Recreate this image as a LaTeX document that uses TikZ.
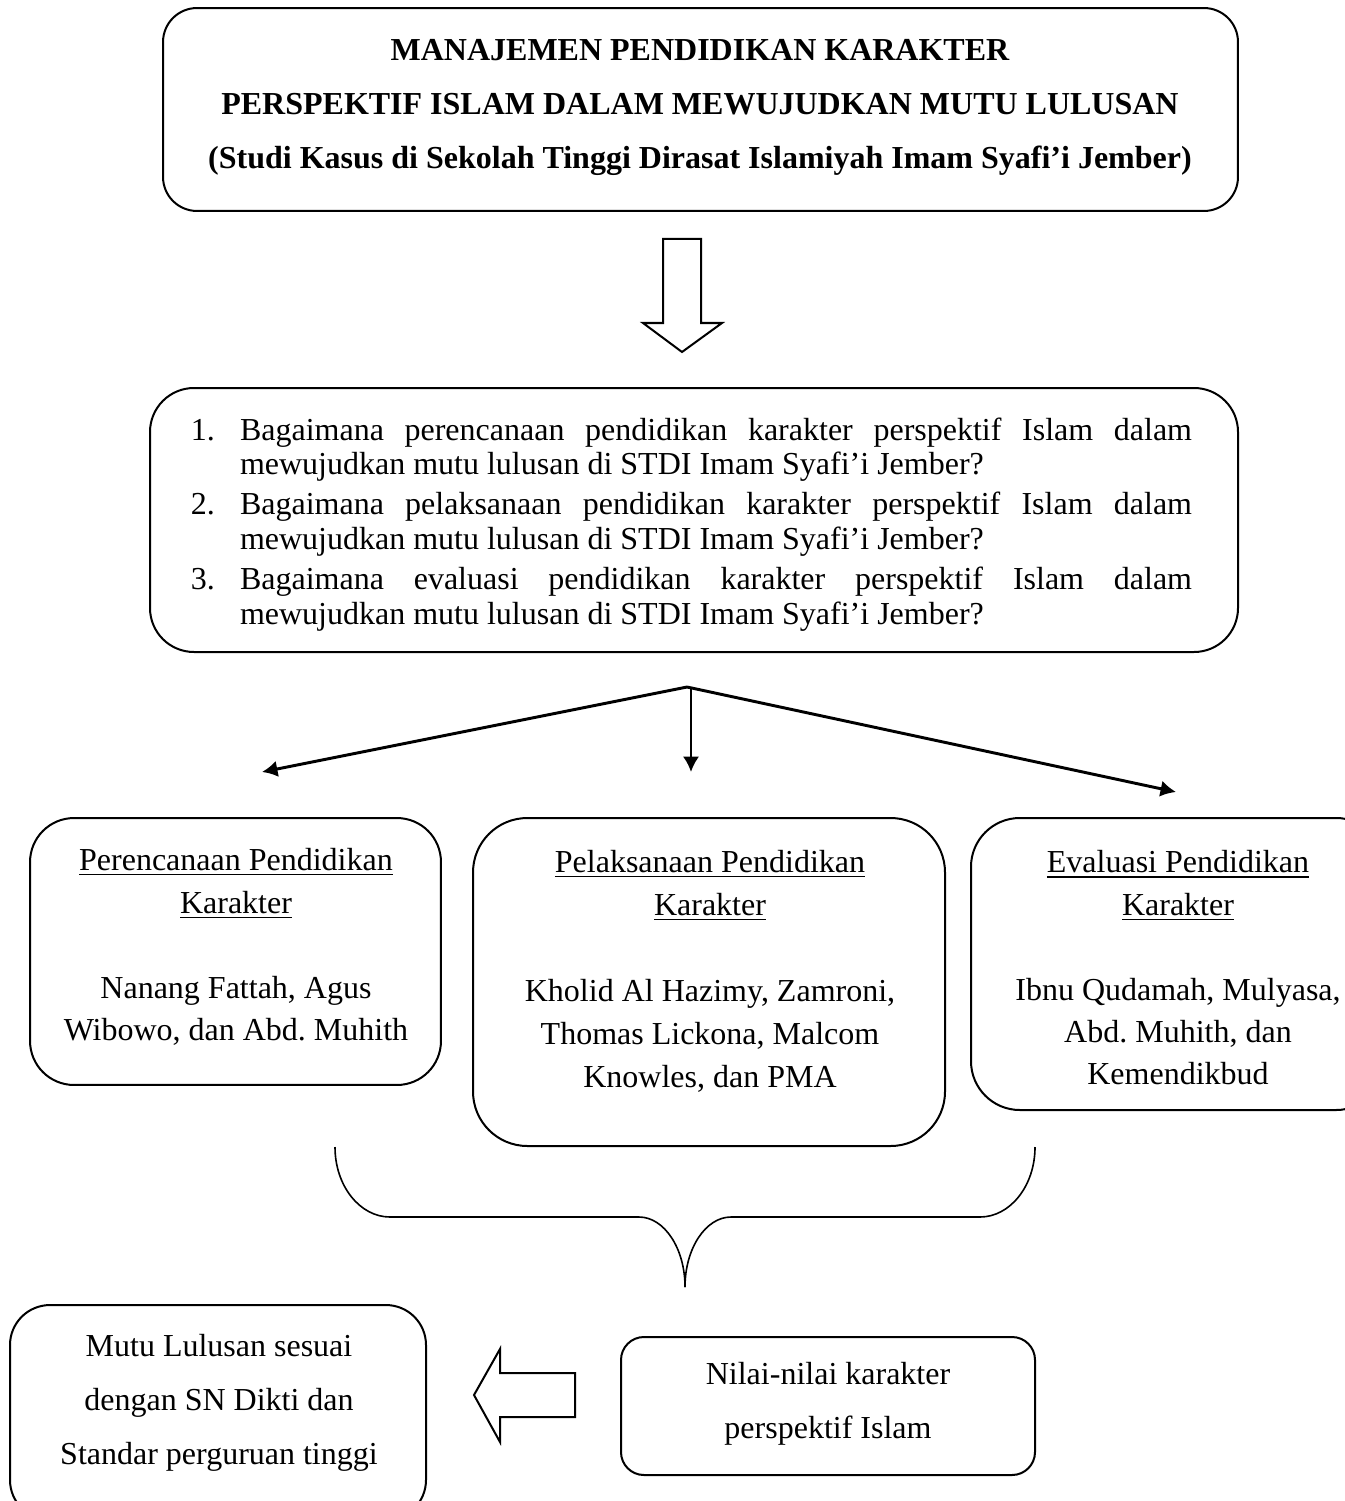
\documentclass[tikz,border=0pt]{standalone}
\usepackage{fontspec}
\setmainfont{Liberation Serif}
\usepackage{enumitem}
\usetikzlibrary{arrows.meta}
\frenchspacing

\begin{document}
\begin{tikzpicture}[x=0.375pt, y=-0.375pt,
  kotak/.style={draw, line width=0.75pt, rounded corners=#1},
  kotak/.default=16pt,
  isi/.style={align=center, font=\fontsize{12}{15.9}\selectfont},
  panah/.style={line width=1.1pt, -{Latex[length=5.8pt, width=6.2pt]}},
  blok/.style={draw, line width=0.75pt, line join=miter}]
  \useasboundingbox (0,0) rectangle (1344,1501);

  % judul
  \node[kotak=12.75pt, minimum width=403.1pt, minimum height=76.1pt] (judul) at (700.5,109.5) {};
  \node[isi, font=\bfseries\fontsize{12}{20.4}\selectfont] (judulteks) at (700,107.5)
    {MANAJEMEN PENDIDIKAN KARAKTER\\
     PERSPEKTIF ISLAM DALAM MEWUJUDKAN MUTU LULUSAN\\
     (Studi Kasus di Sekolah Tinggi Dirasat Islamiyah Imam Syafi’i Jember)};

  \draw[blok] (663,239) -- (701,239) -- (701,323) -- (722,323) -- (682,352)
    -- (643,323) -- (663,323) -- cycle;

  % rumusan masalah
  \node[kotak=16.5pt, minimum width=408pt, minimum height=99pt] (rumusan) at (694,520) {};
  \node[font=\fontsize{12}{13}\selectfont, inner sep=0pt] (rumusanteks) at (691,524.5)
    {\begin{minipage}{375.75pt}\hyphenpenalty=10000
     \begin{enumerate}[leftmargin=18.75pt, labelsep=9.4pt, itemsep=2pt, topsep=0pt, parsep=0pt]
     \item Bagaimana perencanaan pendidikan karakter perspektif Islam dalam\linebreak
       mewujudkan mutu lulusan di STDI Imam Syafi’i Jember?
     \item Bagaimana pelaksanaan pendidikan karakter perspektif Islam dalam\linebreak
       mewujudkan mutu lulusan di STDI Imam Syafi’i Jember?
     \item Bagaimana evaluasi pendidikan karakter perspektif Islam dalam\linebreak
       mewujudkan mutu lulusan di STDI Imam Syafi’i Jember?
     \end{enumerate}
     \end{minipage}};

  \coordinate (cabang) at (687,687);
  \coordinate (cabangtengah) at (691,687);
  \coordinate (ujungkiri) at (262,772);
  \coordinate (ujungtengah) at (691,772);
  \coordinate (ujungkanan) at (1176,792);
  \draw[panah] (cabang) -- (ujungkiri);
  \draw[panah] (cabangtengah) -- (ujungtengah);
  \draw[panah] (cabang) -- (ujungkanan);

  % tiga komponen
  \node[kotak=16.5pt, minimum width=154.1pt, minimum height=100.1pt] (perencanaan) at (235.5,951.5) {};
  \node[isi] (perencanaanteks) at (236,947)
    {\underline{Perencanaan Pendidikan}\\ \underline{Karakter}\\[15.9pt]
     Nanang Fattah, Agus\\ Wibowo, dan Abd. Muhith};

  \node[kotak=20.4pt, minimum width=177pt, minimum height=123pt] (pelaksanaan) at (709,982) {};
  \node[isi, font=\fontsize{12}{16.1}\selectfont] (pelaksanaanteks) at (710,971.5)
    {\underline{Pelaksanaan Pendidikan}\\ \underline{Karakter}\\[16.1pt]
     Kholid Al Hazimy, Zamroni,\\ Thomas Lickona, Malcom\\ Knowles, dan PMA};

  \node[kotak=18.3pt, minimum width=155.25pt, minimum height=109.5pt] (evaluasi) at (1178,964) {};
  \node[isi, font=\fontsize{12}{15.9}\selectfont] (evaluasiteks) at (1178,968)
    {\underline{Evaluasi Pendidikan}\\ \underline{Karakter}\\[15.9pt]
     Ibnu Qudamah, Mulyasa,\\ Abd. Muhith, dan\\ Kemendikbud};

  % kurung kurawal
  \draw[line width=0.6pt] (335,1147) .. controls (335,1186) and (360,1217) .. (390,1217)
    -- (639,1217) .. controls (664,1217) and (685,1248) .. (685,1287);
  \draw[line width=0.6pt] (1035,1147) .. controls (1035,1186) and (1010,1217) .. (980,1217)
    -- (731,1217) .. controls (706,1217) and (685,1248) .. (685,1287);

  % hasil
  \node[kotak=15pt, minimum width=156pt, minimum height=80.6pt] (mutu) at (218,1412.5) {};
  \node[isi, font=\fontsize{12}{20.2}\selectfont] (mututeks) at (219,1403)
    {Mutu Lulusan sesuai\\ dengan SN Dikti dan\\ Standar perguruan tinggi};

  \node[kotak=8.6pt, minimum width=155.25pt, minimum height=51.75pt] (nilai) at (828,1406) {};
  \node[isi, font=\fontsize{12}{20.2}\selectfont] (nilaiteks) at (828,1403.5)
    {Nilai-nilai karakter\\ perspektif Islam};

  \draw[blok] (575,1373) -- (575,1417) -- (500,1417) -- (500,1442) -- (474,1395)
    -- (500,1349) -- (500,1373) -- cycle;
\end{tikzpicture}
\end{document}
